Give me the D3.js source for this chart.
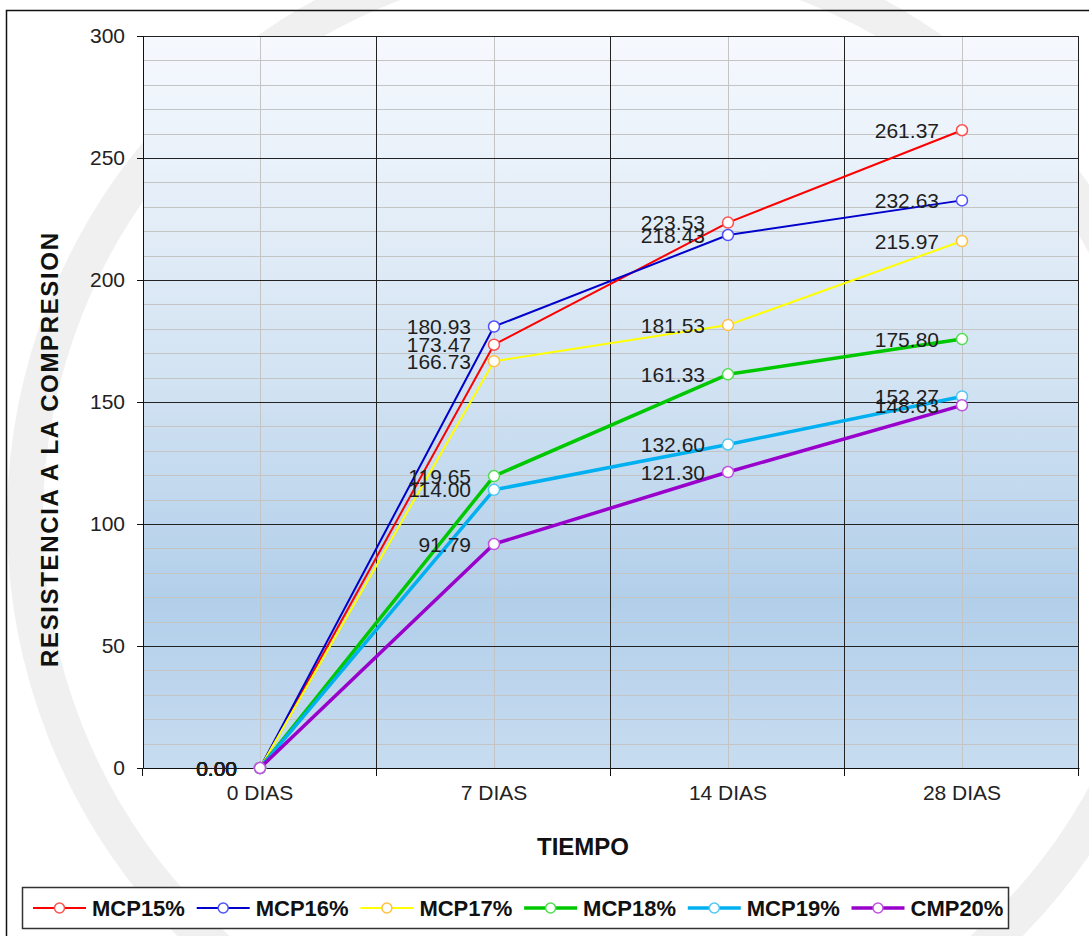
<!DOCTYPE html>
<html>
<head>
<meta charset="utf-8">
<script src="https://cdn.jsdelivr.net/npm/d3@7/dist/d3.min.js"></script>
<style>
  html, body { margin: 0; padding: 0; background: #ffffff; }
  svg { display: block; font-family: "Liberation Sans", Arial, sans-serif; }
</style>
</head>
<body>
<svg id="chart" width="1089" height="936"></svg>
<script>
// Compressive strength by curing age, one series per mix
const categories = ["0 DIAS", "7 DIAS", "14 DIAS", "28 DIAS"];
const mcp15 = [0.00, 173.47, 223.53, 261.37];
const mcp16 = [0.00, 180.93, 218.43, 232.63];
const mcp17 = [0.00, 166.73, 181.53, 215.97];
const mcp18 = [0.00, 119.65, 161.33, 175.80];
const mcp19 = [0.00, 114.00, 132.60, 152.27];
const cmp20 = [0.00, 91.79, 121.30, 148.63];
const seriesNames = ["MCP15%", "MCP16%", "MCP17%", "MCP18%", "MCP19%", "CMP20%"];
const yTicks = [0, 50, 100, 150, 200, 250, 300];

const seriesValues = [mcp15, mcp16, mcp17, mcp18, mcp19, cmp20];
const lineColors   = ["#ff0000", "#0000cc", "#ffff00", "#00c800", "#00b0f0", "#9900cc"];
const markerColors = ["#ff5050", "#5050ff", "#ffc040", "#50dd50", "#50c8f0", "#c050e0"];
const lineWidths   = [2, 2, 2, 3.5, 3.5, 3.5];

const series = seriesNames.map((name, i) => ({
  name, values: seriesValues[i], color: lineColors[i],
  marker: markerColors[i], width: lineWidths[i]
}));

const svg = d3.select("#chart");
const plotLeft = 143, plotRight = 1079, plotTop = 36, plotBottom = 768;

const x = d3.scaleBand().domain(categories).range([plotLeft, plotRight]);
const y = d3.scaleLinear().domain([0, 300]).range([plotBottom, plotTop]);
const cx = c => x(c) + x.bandwidth() / 2;

// faint seal behind the page
svg.append("circle")
  .attr("cx", 600).attr("cy", 520).attr("r", 575)
  .attr("fill", "none").attr("stroke", "#f0f0f0").attr("stroke-width", 36);

// outer frame
svg.append("rect")
  .attr("x", 6.5).attr("y", 10.5).attr("width", 1200).attr("height", 1000)
  .attr("fill", "none").attr("stroke", "#111").attr("stroke-width", 1.5);

// plot background gradient
const defs = svg.append("defs");
const grad = defs.append("linearGradient")
  .attr("id", "plotBg").attr("x1", 0).attr("y1", 0).attr("x2", 0).attr("y2", 1);
grad.append("stop").attr("offset", "0%").attr("stop-color", "#f6f9fe");
grad.append("stop").attr("offset", "45%").attr("stop-color", "#d4e4f3");
grad.append("stop").attr("offset", "77%").attr("stop-color", "#b2cfea");
grad.append("stop").attr("offset", "100%").attr("stop-color", "#c7dcf0");

svg.append("rect")
  .attr("x", plotLeft).attr("y", plotTop)
  .attr("width", plotRight - plotLeft).attr("height", plotBottom - plotTop)
  .attr("fill", "url(#plotBg)");

// minor horizontal grid
const minor = d3.range(10, 300, 10).filter(v => v % 50 !== 0);
svg.append("g").selectAll("line").data(minor).join("line")
  .attr("x1", plotLeft).attr("x2", plotRight)
  .attr("y1", d => Math.round(y(d)) + 0.5).attr("y2", d => Math.round(y(d)) + 0.5)
  .attr("stroke", "#c4c4c4").attr("stroke-width", 1);

// vertical grid at category centres
svg.append("g").selectAll("line").data(categories).join("line")
  .attr("x1", d => Math.round(cx(d)) + 0.5).attr("x2", d => Math.round(cx(d)) + 0.5)
  .attr("y1", plotTop).attr("y2", plotBottom)
  .attr("stroke", "#c4c4c4").attr("stroke-width", 1);

// major horizontal grid
svg.append("g").selectAll("line").data(yTicks.filter(v => v > 0)).join("line")
  .attr("x1", plotLeft).attr("x2", plotRight)
  .attr("y1", d => Math.round(y(d)) + 0.5).attr("y2", d => Math.round(y(d)) + 0.5)
  .attr("stroke", "#222").attr("stroke-width", 1);

// vertical grid at category boundaries
const bounds = categories.map(c => x(c)).concat([plotRight]);
svg.append("g").selectAll("line").data(bounds.slice(1)).join("line")
  .attr("x1", d => Math.round(d) - 0.5).attr("x2", d => Math.round(d) - 0.5)
  .attr("y1", plotTop).attr("y2", plotBottom)
  .attr("stroke", "#222").attr("stroke-width", 1);

// y axis
const yAxis = svg.append("g")
  .attr("transform", `translate(${plotLeft},0)`)
  .call(d3.axisLeft(y).tickValues(yTicks).tickSize(6).tickPadding(12).tickFormat(d3.format("d")));
yAxis.selectAll("text").attr("font-size", 21).attr("fill", "#222")
  .attr("font-family", "'Liberation Sans', Arial, sans-serif");
yAxis.selectAll("line, path").attr("stroke", "#111");

// x axis: labels at centres, ticks at boundaries
const xAxis = svg.append("g")
  .attr("transform", `translate(0,${plotBottom})`)
  .call(d3.axisBottom(x).tickSize(0).tickPadding(17));
xAxis.select(".domain").attr("stroke", "#111");
xAxis.selectAll("text").attr("font-size", 21).attr("fill", "#222")
  .attr("font-family", "'Liberation Sans', Arial, sans-serif");
svg.append("g").selectAll("line").data(bounds).join("line")
  .attr("x1", d => Math.round(d) - 0.5).attr("x2", d => Math.round(d) - 0.5)
  .attr("y1", plotBottom).attr("y2", plotBottom + 8)
  .attr("stroke", "#111").attr("stroke-width", 1);

// axis titles
svg.append("text")
  .attr("transform", "translate(58,450) rotate(-90)")
  .attr("text-anchor", "middle")
  .attr("font-size", 24).attr("font-weight", "bold").attr("fill", "#111")
  .attr("textLength", 434).attr("lengthAdjust", "spacing")
  .text("RESISTENCIA  A LA COMPRESION");

svg.append("text")
  .attr("x", 583).attr("y", 855)
  .attr("text-anchor", "middle")
  .attr("font-size", 24).attr("font-weight", "bold").attr("fill", "#111")
  .text("TIEMPO");

// series lines and markers
const line = d3.line().x((d, i) => cx(categories[i])).y(d => y(d));
const plot = svg.append("g");
series.forEach(s => {
  plot.append("path")
    .datum(s.values)
    .attr("d", line)
    .attr("fill", "none")
    .attr("stroke", s.color)
    .attr("stroke-width", s.width)
    .attr("stroke-linejoin", "round");
  plot.append("g").selectAll("circle").data(s.values).join("circle")
    .attr("cx", (d, i) => cx(categories[i]))
    .attr("cy", d => y(d))
    .attr("r", 5.5)
    .attr("fill", "#ffffff")
    .attr("stroke", s.marker)
    .attr("stroke-width", 1.5);
});

// value labels to the left of each point
const labels = svg.append("g");
series.forEach(s => {
  labels.append("g").selectAll("text").data(s.values).join("text")
    .attr("x", (d, i) => cx(categories[i]) - 23)
    .attr("y", d => y(d))
    .attr("dy", "0.36em")
    .attr("text-anchor", "end")
    .attr("font-size", 21)
    .attr("fill", "#1e1e1e")
    .text(d => d.toFixed(2));
});

// legend
const legend = svg.append("g");
legend.append("rect")
  .attr("x", 22.5).attr("y", 887.5).attr("width", 986).attr("height", 41)
  .attr("fill", "#ffffff").attr("stroke", "#333").attr("stroke-width", 1.5);
const step = 163.7;
series.forEach((s, i) => {
  const x0 = 33 + i * step, ly = 908;
  legend.append("line")
    .attr("x1", x0).attr("x2", x0 + 53).attr("y1", ly).attr("y2", ly)
    .attr("stroke", s.color).attr("stroke-width", s.width);
  legend.append("circle")
    .attr("cx", x0 + 26.5).attr("cy", ly).attr("r", 5)
    .attr("fill", "#fff").attr("stroke", s.marker).attr("stroke-width", 1.5);
  legend.append("text")
    .attr("x", x0 + 59).attr("y", ly).attr("dy", "0.36em")
    .attr("font-size", 22).attr("font-weight", "bold").attr("fill", "#111")
    .text(s.name);
});
</script>
</body>
</html>
